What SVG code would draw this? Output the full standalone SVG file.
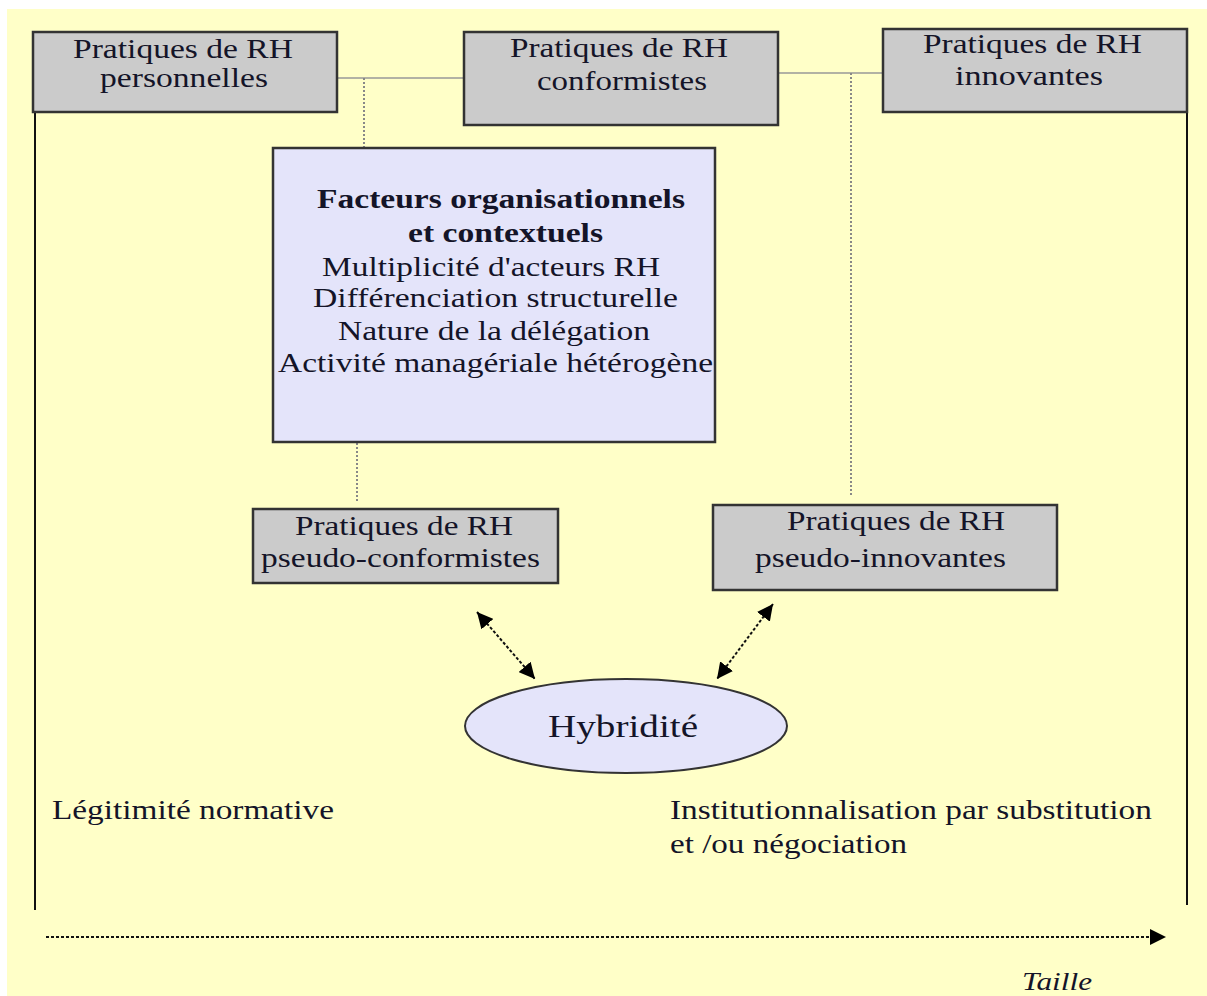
<svg xmlns="http://www.w3.org/2000/svg" width="1207" height="996" viewBox="0 0 1207 996">
<defs>
<style>
.t{font-family:"Liberation Serif","Times New Roman",serif;font-size:28px;fill:#141428}
.b{font-weight:bold}
.box{fill:#cbcbcb;stroke:#333;stroke-width:2.5}
.main{fill:#e4e4fa;stroke:#333;stroke-width:2.5}
.solid{stroke:#999;stroke-width:1.5;fill:none}
.dot{stroke:#888;stroke-width:2;stroke-dasharray:2 2;fill:none}
.arr{stroke:#111;stroke-width:2;stroke-dasharray:3 2;fill:none}
.edge{stroke:#111;stroke-width:2;fill:none}
</style>
<marker id="ah" viewBox="0 0 10 10" refX="10" refY="5" markerWidth="16" markerHeight="16" markerUnits="userSpaceOnUse" orient="auto-start-reverse">
<path d="M0,0 L10,5 L0,10 z" fill="#000"/>
</marker>
</defs>
<rect x="7" y="9" width="1200" height="987" fill="#ffffc8"/>
<g id="connectors">
<path class="solid" d="M337 78 H464"/>
<path class="solid" d="M778 73 H883"/>
<path class="dot" d="M364 78 V148"/>
<path class="dot" d="M851 73 V495"/>
<path class="dot" d="M357 443 V502"/>
<path class="edge" d="M35 112 V910"/>
<path class="edge" d="M1187 112 V905"/>
<path class="arr" d="M477 612 L535 679" marker-start="url(#ah)" marker-end="url(#ah)"/>
<path class="arr" d="M773 604 L717 679" marker-start="url(#ah)" marker-end="url(#ah)"/>
<path class="arr" d="M46 937 H1166" marker-end="url(#ah)" stroke-dasharray="2 1.5"/>
</g>
<g id="n-personnelles">
<rect class="box" x="33" y="32" width="304" height="80"/>
<text class="t" x="73" y="58" textLength="220" lengthAdjust="spacingAndGlyphs">Pratiques de RH</text>
<text class="t" x="100" y="87" textLength="168" lengthAdjust="spacingAndGlyphs">personnelles</text>
</g>
<g id="n-conformistes">
<rect class="box" x="464" y="32" width="314" height="93"/>
<text class="t" x="510" y="57" textLength="218" lengthAdjust="spacingAndGlyphs">Pratiques de RH</text>
<text class="t" x="537" y="90" textLength="170" lengthAdjust="spacingAndGlyphs">conformistes</text>
</g>
<g id="n-innovantes">
<rect class="box" x="883" y="29" width="304" height="83"/>
<text class="t" x="923" y="53" textLength="219" lengthAdjust="spacingAndGlyphs">Pratiques de RH</text>
<text class="t" x="955" y="85" textLength="148" lengthAdjust="spacingAndGlyphs">innovantes</text>
</g>
<g id="n-facteurs">
<rect class="main" x="273" y="148" width="442" height="294"/>
<text class="t b" x="317" y="208" textLength="368" lengthAdjust="spacingAndGlyphs">Facteurs organisationnels</text>
<text class="t b" x="408" y="242" textLength="195" lengthAdjust="spacingAndGlyphs">et contextuels</text>
<text class="t" x="322" y="276" textLength="338" lengthAdjust="spacingAndGlyphs">Multiplicité d'acteurs RH</text>
<text class="t" x="313" y="307" textLength="365" lengthAdjust="spacingAndGlyphs">Différenciation structurelle</text>
<text class="t" x="338" y="340" textLength="312" lengthAdjust="spacingAndGlyphs">Nature de la délégation</text>
<text class="t" x="278" y="372" textLength="435" lengthAdjust="spacingAndGlyphs">Activité managériale hétérogène</text>
</g>
<g id="n-pseudo-conformistes">
<rect class="box" x="253" y="509" width="305" height="74"/>
<text class="t" x="295" y="535" textLength="218" lengthAdjust="spacingAndGlyphs">Pratiques de RH</text>
<text class="t" x="261" y="567" textLength="279" lengthAdjust="spacingAndGlyphs">pseudo-conformistes</text>
</g>
<g id="n-pseudo-innovantes">
<rect class="box" x="713" y="505" width="344" height="85"/>
<text class="t" x="787" y="530" textLength="218" lengthAdjust="spacingAndGlyphs">Pratiques de RH</text>
<text class="t" x="755" y="567" textLength="251" lengthAdjust="spacingAndGlyphs">pseudo-innovantes</text>
</g>
<g id="n-hybridite">
<ellipse cx="626" cy="726" rx="161" ry="47" fill="#e4e4fa" stroke="#333" stroke-width="2"/>
<text class="t" x="548" y="737" style="font-size:32px" textLength="150" lengthAdjust="spacingAndGlyphs">Hybridité</text>
</g>
<g id="labels">
<text class="t" x="52" y="819" textLength="282" lengthAdjust="spacingAndGlyphs">Légitimité normative</text>
<text class="t" x="670" y="819" textLength="482" lengthAdjust="spacingAndGlyphs">Institutionnalisation par substitution</text>
<text class="t" x="670" y="853" textLength="237" lengthAdjust="spacingAndGlyphs">et /ou négociation</text>
<text class="t" x="1022" y="990" style="font-style:italic;font-size:26px" textLength="70" lengthAdjust="spacingAndGlyphs">Taille</text>
</g>
</svg>
